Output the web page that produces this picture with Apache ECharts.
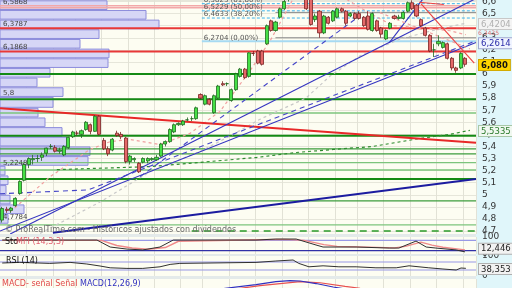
<!DOCTYPE html>
<html><head><meta charset="utf-8">
<script src="https://cdn.jsdelivr.net/npm/echarts@6/dist/echarts.min.js"></script>
<style>html,body{margin:0;padding:0;background:#e0f6fa;overflow:hidden}#c{width:512px;height:288px}</style>
</head><body><div id="c"></div>
<script>
// ---------------- DATA ----------------
const N_CAT = 108;                       // daily slots on the time axis (last two empty)
const categories = Array.from({length: N_CAT}, (_, i) => String(i + 1));
const opens  = [4.79,4.88,4.87,4.91,5.01,5.12,5.25,5.29,5.30,5.31,5.344,5.40,5.39,5.36,5.33,5.39,5.48,5.51,5.50,5.54,5.58,5.525,5.65,5.45,5.38,5.37,5.51,5.50,5.47,5.275,5.29,5.26,5.27,5.28,5.29,5.29,5.32,5.42,5.44,5.52,5.58,5.58,5.62,5.63,5.63,5.83,5.75,5.79,5.68,5.80,5.92,5.92,5.78,5.87,5.98,6.04,5.98,6.17,6.19,6.19,6.25,6.44,6.36,6.47,6.54,6.62,6.68,6.72,6.70,6.66,6.62,6.45,6.52,6.34,6.47,6.44,6.47,6.54,6.52,6.48,6.50,6.50,6.47,6.48,6.36,6.44,6.38,6.29,6.38,6.48,6.46,6.46,6.52,6.59,6.57,6.45,6.38,6.32,6.20,6.25,6.22,6.25,6.13,6.05,6.05,6.13];
const closes = [4.886,4.87,4.89,4.97,5.11,5.25,5.30,5.30,5.30,5.33,5.386,5.40,5.36,5.37,5.40,5.475,5.52,5.51,5.53,5.60,5.525,5.65,5.50,5.38,5.34,5.46,5.49,5.48,5.275,5.32,5.30,5.19,5.30,5.30,5.30,5.31,5.42,5.44,5.54,5.58,5.59,5.61,5.62,5.63,5.72,5.80,5.82,5.75,5.82,5.90,5.91,5.92,5.87,6.00,6.04,5.97,6.175,6.17,6.09,6.08,6.40,6.36,6.43,6.54,6.60,6.68,6.72,6.70,6.75,6.54,6.41,6.48,6.34,6.48,6.42,6.52,6.54,6.52,6.42,6.50,6.46,6.46,6.40,6.37,6.50,6.36,6.33,6.36,6.42,6.46,6.47,6.51,6.59,6.54,6.48,6.40,6.32,6.19,6.20,6.27,6.26,6.13,6.05,6.03,6.17,6.08];
const lows   = [4.77,4.85,4.85,4.90,5.00,5.11,5.22,5.25,5.27,5.28,5.32,5.38,5.35,5.34,5.32,5.38,5.47,5.49,5.47,5.53,5.50,5.52,5.49,5.37,5.32,5.36,5.48,5.46,5.26,5.25,5.27,5.18,5.26,5.26,5.28,5.28,5.31,5.40,5.43,5.51,5.57,5.57,5.61,5.61,5.62,5.79,5.74,5.74,5.67,5.79,5.90,5.90,5.77,5.86,5.97,5.96,5.97,6.15,6.08,6.07,6.24,6.35,6.35,6.46,6.53,6.60,6.66,6.68,6.68,6.53,6.40,6.43,6.30,6.33,6.41,6.43,6.46,6.51,6.40,6.47,6.45,6.45,6.39,6.36,6.35,6.35,6.30,6.28,6.37,6.45,6.45,6.45,6.51,6.53,6.47,6.39,6.31,6.18,6.14,6.23,6.21,6.12,6.03,6.01,6.04,6.06];
const highs  = [4.90,4.90,4.90,4.98,5.12,5.26,5.31,5.33,5.33,5.35,5.39,5.42,5.41,5.39,5.41,5.48,5.53,5.53,5.54,5.61,5.59,5.66,5.66,5.47,5.40,5.47,5.53,5.52,5.48,5.33,5.31,5.27,5.31,5.31,5.31,5.33,5.43,5.45,5.55,5.59,5.60,5.62,5.64,5.65,5.73,5.84,5.83,5.80,5.83,5.91,5.94,5.93,5.88,6.01,6.05,6.05,6.18,6.19,6.20,6.20,6.41,6.45,6.44,6.55,6.62,6.70,6.74,6.75,6.77,6.68,6.63,6.50,6.53,6.49,6.48,6.53,6.55,6.55,6.53,6.51,6.51,6.52,6.48,6.52,6.51,6.45,6.39,6.37,6.43,6.49,6.49,6.52,6.60,6.61,6.58,6.46,6.39,6.33,6.25,6.32,6.27,6.26,6.14,6.06,6.18,6.14];

// volume-by-price profile (bin top price, bin bottom price, relative volume)
const volBinTop    = [6.61,6.53,6.45,6.37,6.29,6.21,6.13,6.05,5.97,5.89,5.81,5.72,5.64,5.56,5.48,5.40,5.32,5.24,5.16,5.08,5.00,4.92,4.84];
const volBinBottom = [6.53,6.45,6.37,6.29,6.21,6.13,6.05,5.97,5.89,5.81,5.72,5.64,5.56,5.48,5.40,5.32,5.24,5.16,5.08,5.00,4.92,4.84,4.76];
const volBinValue  = [107,146,159,99,80,109,108,50,37,63,53,38,45,62,67,90,88,5,8,6,10,24,8];

// price-axis range
const priceMin = 4.675, priceMax = 6.6126;

// horizontal support / resistance levels
const redLevels   = [6.3787, 6.1868];
const pinkLevels  = [6.566, 6.548];
const greenDark   = [6.0, 5.79, 5.489, 5.13];
const greenMid    = [5.38, 5.339, 4.95];
const greenLight  = [5.677, 5.266, 5.205, 4.75];
const greenDashedLevel = 4.70;
const grayLevels  = [6.51, 6.30];
const levelLabels = [["6,5868", 6.5868], ["6,3787", 6.3787], ["6,1868", 6.1868], ["5,8", 5.80], ["5,2248", 5.2248], ["4,7784", 4.7784]];

// Fibonacci retracement
const fibLevels = [6.5823, 6.5229, 6.4633, 6.2704];
const fibTexts  = ["6,5823 (61,80%)", "6,5229 (50,00%)", "6,4633 (38,20%)", "6,2704 (0,00%)"];
const fibStartIdx = 45.3;

// trend lines as [slot index, price]
const trendBlue1 = [[-0.5, 4.700], [107.5, 6.2614]];
const trendBlue2 = [[1.8, 4.675], [107.5, 6.625]];
const trendBlue3 = [[87.8, 6.258], [96.6, 6.675]];
const trendNavy  = [[11.5, 4.685], [107.5, 5.13]];
const trendRedThick = [[-0.5, 5.716], [107.5, 5.43]];
const trendDashBlue1 = [[-0.5, 5.008], [19.5, 5.04], [107.5, 6.275]];
const trendDashBlue2 = [[31.3, 5.15], [81.2, 6.483]];
const trendRedDown = [[95.0, 6.583], [107.1, 6.09]];
const trendRedTop  = [[94.6, 6.594], [100.2, 6.575]];
const trendPinkDash = [[85.7, 6.508], [106.1, 6.208]];

// moving averages (read at points)
const maPink  = [[1.8,4.858],[10.9,5.15],[19.9,5.375],[24.5,5.44],[29,5.458],[35.8,5.416],[42.6,5.508],[49.4,5.69],[56.2,6.025],[60.8,6.275],[65.8,6.608],[67.6,6.708],[76.7,6.65],[83.5,6.50],[88.7,6.40],[94.8,6.383],[101.6,6.358],[105.2,6.325]];
const maGray  = [[8.6,4.68],[22.2,4.94],[33.5,5.19],[44.9,5.358],[52.4,5.50],[58.5,5.625],[68.9,5.80],[74.4,5.983],[81.2,6.15],[90.3,6.29],[99.3,6.375],[105.2,6.4204]];
const maGreen = [[12.4,5.208],[33.5,5.233],[57.6,5.308],[66.7,5.35],[75.1,5.375],[84.1,5.40],[94.8,5.466],[101.6,5.50],[106.1,5.5335]];

// indicators
const stochK = [[0,82],[21.5,82],[24.5,41],[28.3,29],[31.9,24],[35.8,41],[38.8,82],[57.6,82],[62.1,88],[66.7,88],[71.2,53],[72.8,41],[80.3,41],[87.8,35],[90,35],[93.9,76],[96.2,41],[98.4,35],[103,24],[105,12.446]];
const stochD = [[0,80],[22.5,80],[26,50],[29.5,35],[33,28],[37,38],[40,75],[58,84],[64,86],[68.5,80],[73,55],[76,45],[81,42],[89,36],[91.5,45],[95,70],[97.5,52],[100,40],[105,24]];
const rsi = [[0,65],[4,68],[10.8,63],[15.4,68],[19.2,60],[22.2,50],[24.5,41],[28.3,38],[31.9,38],[35.8,46],[38.1,58],[40.3,63],[57.6,68],[62.1,75],[66,80],[67.3,63],[69.6,46],[72.8,51],[76.4,46],[80.3,46],[84.8,41],[89.4,41],[92.3,51],[96.8,41],[100,35],[103,30],[104.1,40],[105.2,38.353]];
const macdLine   = [[46,0.0],[50.6,0.03],[57.6,0.058],[62.1,0.08],[65.3,0.088],[67.6,0.085],[71.2,0.066],[75.1,0.04],[77.8,0.025],[85,0.0],[105.2,-0.03]];
const macdSignal = [[48,0.0],[54,0.03],[58.5,0.05],[67.6,0.08],[72.1,0.072],[77.8,0.045],[81.2,0.03],[90,0.0],[105.2,-0.02]];

const lastClose = 6.080, lastStoch = 12.446, lastRsi = 38.353;
const weekLines = [6,12,17,23,29,35,41,46,52,58,64,70,76,81,87,93,99,105];

// ---------------- CHART ----------------
const X0 = -0.5, X1 = N_CAT - 0.5;
const fmt = v => String(+v.toFixed(4)).replace('.', ',');
const chart = echarts.init(document.getElementById('c'), null, {width: 512, height: 288});

function seg(pts, color, width, type, opts) {
  return Object.assign({type: 'line', xAxisIndex: 1, yAxisIndex: 0, data: pts, symbol: 'none', silent: true,
    lineStyle: {color, width, type: type || 'solid'}, z: 3, animation: false, clip: true}, opts || {});
}
function hl(p, color, width, type, from) { return seg([[from == null ? X0 : from, p], [X1, p]], color, width, type); }

const series = [];
series.push({
  type: 'custom', xAxisIndex: 2, yAxisIndex: 0, z: 1, silent: true, animation: false,
  data: volBinValue.map((v, i) => [v, volBinTop[i], volBinBottom[i]]),
  renderItem: (params, api) => {
    const a = api.coord([0, api.value(1)]);
    const b = api.coord([api.value(0), api.value(2)]);
    return {type: 'rect', shape: {x: a[0], y: a[1] + 0.5, width: b[0] - a[0], height: b[1] - a[1] - 1},
      style: {fill: '#d6d6f6', stroke: '#8c8cdc', lineWidth: 1}};
  }
});
pinkLevels.forEach(p => series.push(hl(p, '#f2a8a8', 1.5)));
fibLevels.slice(0, 3).forEach(p => series.push(hl(p, '#3cb4ee', 1, [3, 2], fibStartIdx)));
series.push(hl(fibLevels[3], '#a6daf2', 2, 'solid', fibStartIdx));
grayLevels.forEach(p => series.push(hl(p, '#8a8a8a', 1, 'solid', 62)));
greenDark.forEach(p => series.push(hl(p, '#148a14', 2)));
greenMid.forEach(p => series.push(hl(p, '#3c9c3c', 1.3)));
greenLight.forEach(p => series.push(hl(p, '#7cc47c', 1.3)));
series.push(hl(greenDashedLevel, '#2a9a2a', 1.3, [7, 5], 43));
redLevels.forEach(p => series.push(hl(p, '#e83838', 2)));
series.push(seg(maGreen, '#2e8b2e', 1.2, [3, 3]));
series.push(seg(maGray, '#c8c8c8', 1.2, [3, 3]));
series.push(seg(maPink, '#f0a0a0', 1.2, [3, 3]));
series.push(seg(trendRedThick, '#e82828', 2));
series.push(seg(trendNavy, '#1c1ca0', 2));
series.push(seg(trendBlue1, '#3434c0', 1.1));
series.push(seg(trendBlue2, '#3434c0', 1.1));
series.push(seg(trendBlue3, '#3434c0', 1.1));
series.push(seg(trendDashBlue1, '#4646c8', 1.1, [5, 4]));
series.push(seg(trendDashBlue2, '#4646c8', 1.1, [5, 4]));
series.push(seg(trendRedDown, '#ec4040', 1.1));
series.push(seg(trendRedTop, '#ec4040', 1.1));
series.push(seg(trendPinkDash, '#f0a0a0', 1.2, [3, 3]));
series.push({
  type: 'candlestick', xAxisIndex: 0, yAxisIndex: 0, z: 4, silent: true, animation: false,
  data: opens.map((o, i) => [o, closes[i], lows[i], highs[i]]),
  barWidth: 3.6,
  itemStyle: {color: '#46e046', color0: '#e46868', borderColor: '#1f6a1f', borderColor0: '#7a2222', borderWidth: 0.8}
});
// stochastic panel
series.push(seg([[X0, 80], [X1, 80]], '#9898e6', 1.2, 'solid', {xAxisIndex: 4, yAxisIndex: 1}));
series.push(seg([[X0, 20], [X1, 20]], '#3030a8', 1.2, 'solid', {xAxisIndex: 4, yAxisIndex: 1}));
series.push(seg(stochD, '#f08a8a', 1.4, 'solid', {xAxisIndex: 4, yAxisIndex: 1}));
series.push(seg(stochK, '#303030', 1, 'solid', {xAxisIndex: 4, yAxisIndex: 1}));
// RSI panel
series.push(seg([[X0, 70], [X1, 70]], '#9898e6', 1.2, 'solid', {xAxisIndex: 6, yAxisIndex: 2}));
series.push(seg([[X0, 30], [X1, 30]], '#9898e6', 1.2, 'solid', {xAxisIndex: 6, yAxisIndex: 2}));
series.push(seg(rsi, '#303030', 1, 'solid', {xAxisIndex: 6, yAxisIndex: 2}));
// MACD panel (only the upper part of the panel is inside the picture)
series.push(seg(macdSignal, '#e85050', 1.2, 'solid', {xAxisIndex: 8, yAxisIndex: 3}));
series.push(seg(macdLine, '#3030c0', 1.2, 'solid', {xAxisIndex: 8, yAxisIndex: 3}));

const vSplit = {show: true, interval: (i) => weekLines.includes(i), lineStyle: {color: '#e2e2d6', width: 1}};
const catAxis = (g) => ({type: 'category', gridIndex: g, data: categories, boundaryGap: true, axisLine: {show: false}, axisTick: {show: false}, axisLabel: {show: false}, splitLine: vSplit});
const valX = (g, min, max) => ({type: 'value', gridIndex: g, min, max, show: false});
const gridBase = {left: 0, width: 476, show: true, backgroundColor: '#fdfdf2', borderWidth: 0, containLabel: false, outerBoundsMode: 'none'};

chart.setOption({
  animation: false,
  grid: [
    Object.assign({top: 0, height: 234}, gridBase),
    Object.assign({top: 237, height: 17}, gridBase),
    Object.assign({top: 256, height: 20}, gridBase),
    Object.assign({top: 279, height: 9}, gridBase)
  ],
  xAxis: [catAxis(0), valX(0, X0, X1), valX(0, 0, 476), catAxis(1), valX(1, X0, X1), catAxis(2), valX(2, X0, X1), catAxis(3), valX(3, X0, X1)],
  yAxis: [
    {type: 'value', gridIndex: 0, position: 'right', min: priceMin, max: priceMax, splitNumber: 20,
      axisLine: {show: false}, axisTick: {show: false},
      axisLabel: {formatter: v => fmt(v), color: '#333', fontSize: 9, fontFamily: 'DejaVu Sans', margin: 6, showMinLabel: false, showMaxLabel: false},
      splitLine: {lineStyle: {color: '#e6e6da'}}},
    {type: 'value', gridIndex: 1, position: 'right', min: 0, max: 100, interval: 100,
      axisLine: {show: false}, axisTick: {show: false}, splitLine: {show: false},
      axisLabel: {color: '#333', fontSize: 9, fontFamily: 'DejaVu Sans', margin: 6}},
    {type: 'value', gridIndex: 2, position: 'right', min: 0, max: 100, interval: 100,
      axisLine: {show: false}, axisTick: {show: false}, splitLine: {show: false},
      axisLabel: {color: '#333', fontSize: 9, fontFamily: 'DejaVu Sans', margin: 6}},
    {type: 'value', gridIndex: 3, position: 'right', min: 0.0325, max: 0.1,
      axisLine: {show: false}, axisTick: {show: false}, splitLine: {show: false}, axisLabel: {show: false}}
  ],
  series
});

// text overlays positioned through the library's scales
const py = v => chart.convertToPixel({yAxisIndex: 0}, v);
const g = [];
levelLabels.forEach(([t, v]) => g.push({type: 'text', left: 3, top: Math.max(-1, py(v) - 8), z: 50,
  style: {text: t, fill: '#444', font: '7px DejaVu Sans'}}));
fibLevels.forEach((v, i) => g.push({type: 'text', left: chart.convertToPixel({xAxisIndex: 1}, fibStartIdx) + 2, top: py(v) - 7, z: 50,
  style: {text: fibTexts[i], fill: '#555', font: '7px DejaVu Sans'}}));
function box(text, y, fill, bg, border, bold, size) {
  const fs = size || 8.5;
  g.push({type: 'text', left: 478, top: y - fs / 2 - 1, z: 60,
    style: {text, fill, backgroundColor: bg, borderColor: border, borderWidth: bg ? 1 : 0, padding: [1, 2, 0, 2],
      font: (bold ? 'bold ' : '') + fs + 'px DejaVu Sans'}});
}
box('6,4204', py(6.4204), '#b0b0b0', '#f4f4f4', '#c8c8c8');
box('6,3435', py(6.3235), '#e07070', null, null, false, 6);
box('6,2614', py(6.2614), '#2a2aa8', '#f0f4ff', '#a0a8d0');
box('6,080', py(lastClose), '#111', '#ffd400', '#d0a800', true);
box('5,5335', py(5.5335), '#2a7a2a', '#f0f8f0', '#a8c8a8');
box('12,446', chart.convertToPixel({yAxisIndex: 1}, lastStoch) - 4, '#222', '#f2f2f2', '#b0b0b0');
box('38,353', chart.convertToPixel({yAxisIndex: 2}, lastRsi), '#222', '#f2f2f2', '#b0b0b0');
g.push({type: 'text', left: 5, top: 226, z: 50, style: {text: '© ProRealTime.com - Históricos ajustados con dividendos', fill: '#6a6a6a', font: '8px DejaVu Sans'}});
g.push({type: 'rect', shape: {x: 0, y: 234, width: 476, height: 3}, z: 40, style: {fill: '#e4eaea'}});
g.push({type: 'rect', shape: {x: 0, y: 254, width: 476, height: 2}, z: 40, style: {fill: '#e4eaea'}});
g.push({type: 'rect', shape: {x: 0, y: 276, width: 476, height: 3}, z: 40, style: {fill: '#e4eaea'}});
g.push({type: 'text', left: 5, top: 238, z: 50, style: {text: 'Sto', fill: '#111', font: '8px DejaVu Sans'}});
g.push({type: 'text', left: 16, top: 238, z: 50, style: {text: 'MFI (14,3,3)', fill: '#e06070', font: '8px DejaVu Sans'}});
g.push({type: 'text', left: 6, top: 257, z: 50, style: {text: 'RSI (14)', fill: '#111', font: '8px DejaVu Sans'}});
g.push({type: 'text', left: 2, top: 280, z: 50, style: {text: '{r|MACD- señal Señal} {b|MACD(12,26,9)}', font: '8px DejaVu Sans',
  rich: {r: {fill: '#e04848', font: '8px DejaVu Sans'}, b: {fill: '#3030c0', font: '8px DejaVu Sans'}}}});
chart.setOption({graphic: g});
</script></body></html>
